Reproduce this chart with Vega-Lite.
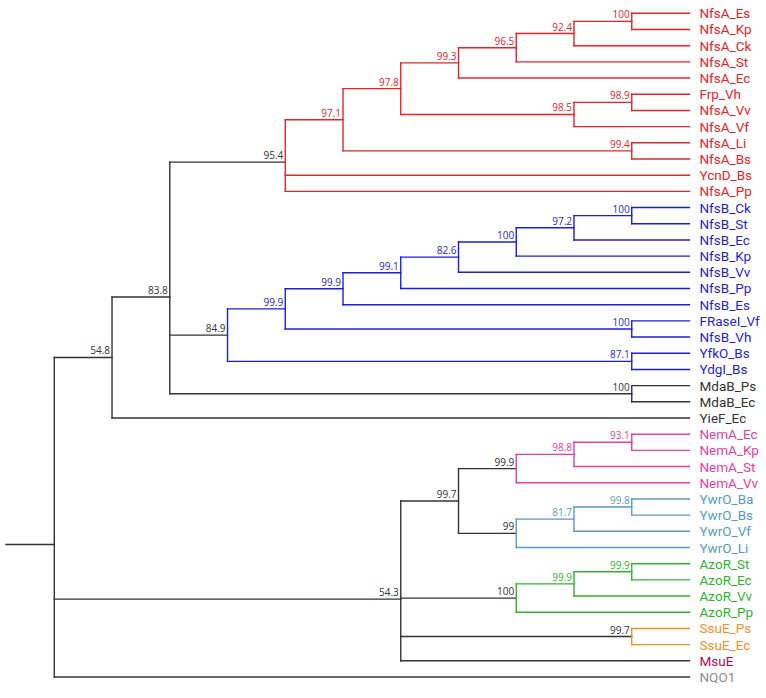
{
  "$schema": "https://vega.github.io/schema/vega-lite/v6.json",
  "width": 766,
  "height": 698,
  "autosize": "none",
  "padding": 0,
  "background": "white",
  "config": {"view": {"stroke": null}},
  "data": {
    "values": [
      {"n": "NfsA_Es", "d": 11, "pd": 10, "y": 0, "c": "A", "lc": "A"},
      {"n": "NfsA_Kp", "d": 11, "pd": 10, "y": 1, "c": "A", "lc": "A"},
      {"n": "NfsA_Ck", "d": 11, "pd": 9, "y": 2, "c": "A", "lc": "A"},
      {"n": "NfsA_St", "d": 11, "pd": 8, "y": 3, "c": "A", "lc": "A"},
      {"n": "NfsA_Ec", "d": 11, "pd": 7, "y": 4, "c": "A", "lc": "A"},
      {"n": "Frp_Vh", "d": 11, "pd": 10, "y": 5, "c": "A", "lc": "A"},
      {"n": "NfsA_Vv", "d": 11, "pd": 10, "y": 6, "c": "A", "lc": "A"},
      {"n": "NfsA_Vf", "d": 11, "pd": 9, "y": 7, "c": "A", "lc": "A"},
      {"n": "NfsA_Li", "d": 11, "pd": 10, "y": 8, "c": "A", "lc": "A"},
      {"n": "NfsA_Bs", "d": 11, "pd": 10, "y": 9, "c": "A", "lc": "A"},
      {"n": "YcnD_Bs", "d": 11, "pd": 4, "y": 10, "c": "A", "lc": "A"},
      {"n": "NfsA_Pp", "d": 11, "pd": 4, "y": 11, "c": "A", "lc": "A"},
      {"n": "NfsB_Ck", "d": 11, "pd": 10, "y": 12, "c": "B", "lc": "B"},
      {"n": "NfsB_St", "d": 11, "pd": 10, "y": 13, "c": "B", "lc": "B"},
      {"n": "NfsB_Ec", "d": 11, "pd": 9, "y": 14, "c": "B", "lc": "B"},
      {"n": "NfsB_Kp", "d": 11, "pd": 8, "y": 15, "c": "B", "lc": "B"},
      {"n": "NfsB_Vv", "d": 11, "pd": 7, "y": 16, "c": "B", "lc": "B"},
      {"n": "NfsB_Pp", "d": 11, "pd": 6, "y": 17, "c": "B", "lc": "B"},
      {"n": "NfsB_Es", "d": 11, "pd": 5, "y": 18, "c": "B", "lc": "B"},
      {"n": "FRaseI_Vf", "d": 11, "pd": 10, "y": 19, "c": "B", "lc": "B"},
      {"n": "NfsB_Vh", "d": 11, "pd": 10, "y": 20, "c": "B", "lc": "B"},
      {"n": "YfkO_Bs", "d": 11, "pd": 10, "y": 21, "c": "B", "lc": "B"},
      {"n": "YdgI_Bs", "d": 11, "pd": 10, "y": 22, "c": "B", "lc": "B"},
      {"n": "MdaB_Ps", "d": 11, "pd": 10, "y": 23, "c": "K", "lc": "K"},
      {"n": "MdaB_Ec", "d": 11, "pd": 10, "y": 24, "c": "K", "lc": "K"},
      {"n": "YieF_Ec", "d": 11, "pd": 1, "y": 25, "c": "K", "lc": "K"},
      {"n": "NemA_Ec", "d": 11, "pd": 10, "y": 26, "c": "N", "lc": "N"},
      {"n": "NemA_Kp", "d": 11, "pd": 10, "y": 27, "c": "N", "lc": "N"},
      {"n": "NemA_St", "d": 11, "pd": 9, "y": 28, "c": "N", "lc": "N"},
      {"n": "NemA_Vv", "d": 11, "pd": 8, "y": 29, "c": "N", "lc": "N"},
      {"n": "YwrO_Ba", "d": 11, "pd": 10, "y": 30, "c": "Y", "lc": "Y"},
      {"n": "YwrO_Bs", "d": 11, "pd": 10, "y": 31, "c": "Y", "lc": "Y"},
      {"n": "YwrO_Vf", "d": 11, "pd": 9, "y": 32, "c": "Y", "lc": "Y"},
      {"n": "YwrO_Li", "d": 11, "pd": 8, "y": 33, "c": "Y", "lc": "Y"},
      {"n": "AzoR_St", "d": 11, "pd": 10, "y": 34, "c": "Z", "lc": "Z"},
      {"n": "AzoR_Ec", "d": 11, "pd": 10, "y": 35, "c": "Z", "lc": "Z"},
      {"n": "AzoR_Vv", "d": 11, "pd": 9, "y": 36, "c": "Z", "lc": "Z"},
      {"n": "AzoR_Pp", "d": 11, "pd": 8, "y": 37, "c": "Z", "lc": "Z"},
      {"n": "SsuE_Ps", "d": 11, "pd": 10, "y": 38, "c": "S", "lc": "S"},
      {"n": "SsuE_Ec", "d": 11, "pd": 10, "y": 39, "c": "S", "lc": "S"},
      {"n": "MsuE", "d": 11, "pd": 6, "y": 40, "c": "K", "lc": "M"},
      {"n": "NQO1", "d": 11, "pd": 0, "y": 41, "c": "K", "lc": "Q"},

      {"b": "100", "d": 10, "pd": 9, "y": 0.5, "lo": 0, "hi": 1, "c": "A", "vc": "A"},
      {"b": "92.4", "d": 9, "pd": 8, "y": 1.25, "lo": 0.5, "hi": 2, "c": "A", "vc": "A"},
      {"b": "96.5", "d": 8, "pd": 7, "y": 2.125, "lo": 1.25, "hi": 3, "c": "A", "vc": "A"},
      {"b": "99.3", "d": 7, "pd": 6, "y": 3.0625, "lo": 2.125, "hi": 4, "c": "A", "vc": "A"},
      {"b": "98.9", "d": 10, "pd": 9, "y": 5.5, "lo": 5, "hi": 6, "c": "A", "vc": "A"},
      {"b": "98.5", "d": 9, "pd": 6, "y": 6.25, "lo": 5.5, "hi": 7, "c": "A", "vc": "A"},
      {"b": "97.8", "d": 6, "pd": 5, "y": 4.65625, "lo": 3.0625, "hi": 6.25, "c": "A", "vc": "A"},
      {"b": "99.4", "d": 10, "pd": 5, "y": 8.5, "lo": 8, "hi": 9, "c": "A", "vc": "A"},
      {"b": "97.1", "d": 5, "pd": 4, "y": 6.578125, "lo": 4.65625, "hi": 8.5, "c": "A", "vc": "A"},
      {"b": "95.4", "d": 4, "pd": 2, "y": 9.192708, "lo": 6.578125, "hi": 11, "c": "K", "vc": "A"},

      {"b": "100", "d": 10, "pd": 9, "y": 12.5, "lo": 12, "hi": 13, "c": "B", "vc": "B"},
      {"b": "97.2", "d": 9, "pd": 8, "y": 13.25, "lo": 12.5, "hi": 14, "c": "B", "vc": "B"},
      {"b": "100", "d": 8, "pd": 7, "y": 14.125, "lo": 13.25, "hi": 15, "c": "B", "vc": "B"},
      {"b": "82.6", "d": 7, "pd": 6, "y": 15.0625, "lo": 14.125, "hi": 16, "c": "B", "vc": "B"},
      {"b": "99.1", "d": 6, "pd": 5, "y": 16.03125, "lo": 15.0625, "hi": 17, "c": "B", "vc": "B"},
      {"b": "99.9", "d": 5, "pd": 4, "y": 17.015625, "lo": 16.03125, "hi": 18, "c": "B", "vc": "B"},
      {"b": "100", "d": 10, "pd": 4, "y": 19.5, "lo": 19, "hi": 20, "c": "B", "vc": "B"},
      {"b": "99.9", "d": 4, "pd": 3, "y": 18.2578125, "lo": 17.015625, "hi": 19.5, "c": "B", "vc": "B"},
      {"b": "87.1", "d": 10, "pd": 3, "y": 21.5, "lo": 21, "hi": 22, "c": "B", "vc": "B"},
      {"b": "84.9", "d": 3, "pd": 2, "y": 19.878906, "lo": 18.2578125, "hi": 21.5, "c": "K", "vc": "B"},

      {"b": "100", "d": 10, "pd": 2, "y": 23.5, "lo": 23, "hi": 24, "c": "K", "vc": "K"},
      {"b": "83.8", "d": 2, "pd": 1, "y": 17.523871, "lo": 9.192708, "hi": 23.5, "c": "K", "vc": "K"},
      {"b": "54.8", "d": 1, "pd": 0, "y": 21.261936, "lo": 17.523871, "hi": 25, "c": "K", "vc": "K"},

      {"b": "93.1", "d": 10, "pd": 9, "y": 26.5, "lo": 26, "hi": 27, "c": "N", "vc": "N"},
      {"b": "98.8", "d": 9, "pd": 8, "y": 27.25, "lo": 26.5, "hi": 28, "c": "N", "vc": "N"},
      {"b": "99.9", "d": 8, "pd": 7, "y": 28.125, "lo": 27.25, "hi": 29, "c": "K", "vc": "N"},
      {"b": "99.8", "d": 10, "pd": 9, "y": 30.5, "lo": 30, "hi": 31, "c": "Y", "vc": "Y"},
      {"b": "81.7", "d": 9, "pd": 8, "y": 31.25, "lo": 30.5, "hi": 32, "c": "Y", "vc": "Y"},
      {"b": "99", "d": 8, "pd": 7, "y": 32.125, "lo": 31.25, "hi": 33, "c": "K", "vc": "Y"},
      {"b": "99.7", "d": 7, "pd": 6, "y": 30.125, "lo": 28.125, "hi": 32.125, "c": "K", "vc": "K"},
      {"b": "99.9", "d": 10, "pd": 9, "y": 34.5, "lo": 34, "hi": 35, "c": "Z", "vc": "Z"},
      {"b": "99.9", "d": 9, "pd": 8, "y": 35.25, "lo": 34.5, "hi": 36, "c": "Z", "vc": "Z"},
      {"b": "100", "d": 8, "pd": 6, "y": 36.125, "lo": 35.25, "hi": 37, "c": "K", "vc": "Z"},
      {"b": "99.7", "d": 10, "pd": 6, "y": 38.5, "lo": 38, "hi": 39, "c": "K", "vc": "S"},
      {"b": "54.3", "d": 6, "pd": 0, "y": 36.1875, "lo": 30.125, "hi": 40, "c": "K", "vc": "K"},

      {"d": 0, "pd": -0.8364, "y": 32.816479, "lo": 21.261936, "hi": 41, "c": "K", "vc": "K"}
    ]
  },
  "layer": [
    {
      "mark": {"type": "rule", "strokeWidth": 1.4, "strokeCap": "square"},
      "encoding": {
        "x": {"field": "pd", "type": "quantitative", "scale": {"domain": [-0.9403, 12.325], "nice": false, "zero": false}, "axis": null},
        "x2": {"field": "d"},
        "y": {"field": "y", "type": "quantitative", "scale": {"domain": [-0.8216, 42.297], "nice": false, "zero": false, "reverse": true}, "axis": null},
        "color": {"field": "c", "type": "nominal", "legend": null,
          "scale": {"domain": ["A", "B", "K", "N", "Y", "Z", "S", "M", "Q"],
                    "range": ["#ec2227", "#1f1fd6", "#333333", "#e83e9c", "#5a9ac6", "#2eb62c", "#f0902a", "#b01050", "#8c8c8c"]}}
      }
    },
    {
      "transform": [{"filter": "isValid(datum.lo)"}],
      "mark": {"type": "rule", "strokeWidth": 1.4, "strokeCap": "square"},
      "encoding": {
        "x": {"field": "d", "type": "quantitative"},
        "y": {"field": "lo", "type": "quantitative"},
        "y2": {"field": "hi"},
        "color": {"field": "vc", "type": "nominal", "legend": null}
      }
    },
    {
      "transform": [{"filter": "isValid(datum.n)"}],
      "mark": {"type": "text", "align": "left", "baseline": "middle", "dx": 10, "dy": 1, "font": "Roboto", "fontSize": 13.5},
      "encoding": {
        "x": {"field": "d", "type": "quantitative"},
        "y": {"field": "y", "type": "quantitative"},
        "text": {"field": "n"},
        "color": {"field": "lc", "type": "nominal", "legend": null}
      }
    },
    {
      "transform": [{"filter": "isValid(datum.b)"}],
      "mark": {"type": "text", "align": "right", "baseline": "bottom", "dx": -2, "dy": -1, "font": "Open Sans", "fontSize": 10},
      "encoding": {
        "x": {"field": "d", "type": "quantitative"},
        "y": {"field": "y", "type": "quantitative"},
        "text": {"field": "b"},
        "color": {"field": "c", "type": "nominal", "legend": null}
      }
    }
  ]
}
